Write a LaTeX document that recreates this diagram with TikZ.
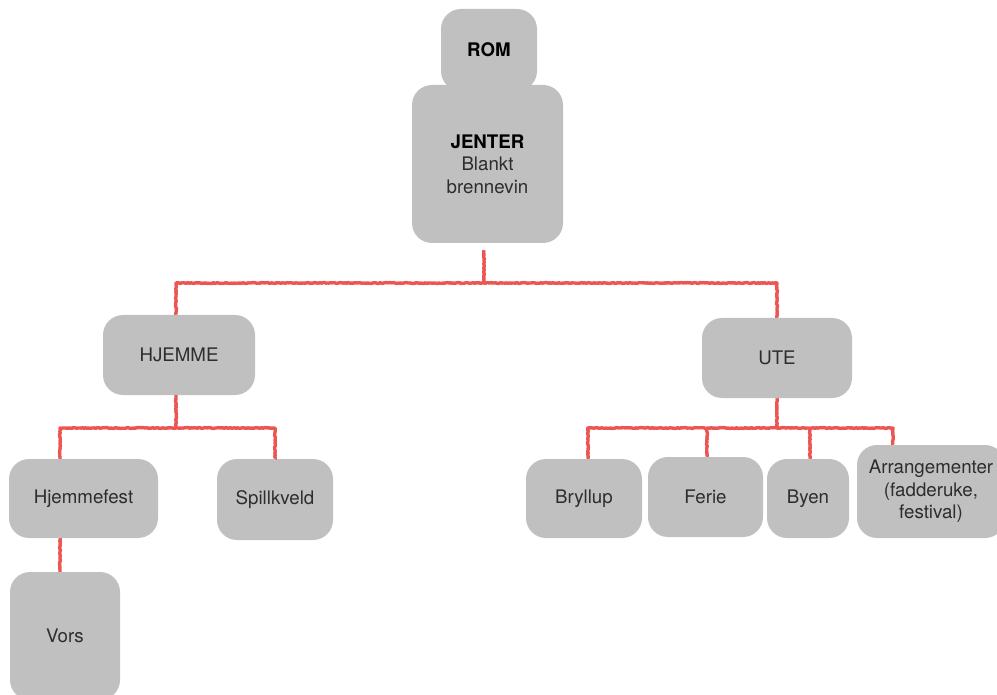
\documentclass[tikz,border=0pt]{standalone}
\usepackage{fontspec}
\setmainfont{TeX Gyre Heros}
\usetikzlibrary{decorations.pathmorphing}
\definecolor{boxgray}{RGB}{192,192,192}
\definecolor{linkred}{RGB}{236,86,82}
\definecolor{txt}{RGB}{45,45,45}
\begin{document}
\begin{tikzpicture}[x=1pt,y=-1pt,
  box/.style={rectangle, rounded corners=20pt, fill=boxgray, text=txt,
    align=center, inner sep=2pt, font=\fontsize{18.7}{22.5}\selectfont},
  head/.style={text=black, font=\fontsize{18.7}{22.5}\selectfont\bfseries},
  link/.style={draw=linkred, line width=3.4pt, line join=round,
    decorate, decoration={random steps, segment length=1.5pt, amplitude=0.45pt}}]
\useasboundingbox (0,0) rectangle (997,695);
\clip (0,0) rectangle (997,695);

% top of the tree
\node[box, minimum width=96pt, minimum height=82pt] (rom) at (489,50) {\textcolor{black}{\bfseries ROM}};
\node[box, minimum width=151pt, minimum height=158pt] (jenter) at (487.5,164)
  {\textcolor{black}{\bfseries JENTER}\\Blankt\\brennevin};

% second level
\node[box, minimum width=152pt, minimum height=80pt] (hjemme) at (179,355) {HJEMME};
\node[box, minimum width=150pt, minimum height=80pt] (ute) at (777,358) {UTE};

% children of HJEMME
\node[box, minimum width=149pt, minimum height=79pt] (hjemmefest) at (83.5,498.5) {Hjemmefest};
\node[box, minimum width=116pt, minimum height=81pt] (spillkveld) at (275,499.5) {Spillkveld};
\node[box, minimum width=110pt, minimum height=128pt] (vors) at (65,636) {Vors};

% children of UTE
\node[box, minimum width=116pt, minimum height=79pt] (bryllup) at (584,498.5) {Bryllup};
\node[box, minimum width=115pt, minimum height=80pt] (ferie) at (705.5,497) {Ferie};
\node[box, minimum width=82pt, minimum height=79pt] (byen) at (808,498.5) {Byen};
\node[box, minimum width=148pt, minimum height=93pt] (arr) at (931,491.5)
  {Arrangementer\\(fadderuke,\\festival)};

% bus lines
\coordinate (busTop) at (484,283);
\coordinate (busLeft) at (176,428);
\coordinate (busRight) at (777,428);

\draw[link] ([xshift=-3.5pt,yshift=-7pt]jenter.south) -- (busTop);
\draw[link] ([xshift=-3pt]hjemme.north) |- (busTop) -| (ute.north);

\draw[link] ([xshift=-3pt]hjemme.south) -- (busLeft);
\draw[link] ([xshift=-23.5pt]hjemmefest.north) |- (busLeft) -| (spillkveld.north);
\draw[link] ([xshift=-23.5pt]hjemmefest.south) -- ([xshift=-5pt]vors.north);

\draw[link] (ute.south) -- (busRight);
\draw[link] ([xshift=4pt]bryllup.north) |- (busRight) -| ([xshift=-38pt]arr.north);
\draw[link] ([xshift=1.5pt]ferie.north) -- ([xshift=1.5pt]ferie.north |- busRight);
\draw[link] ([xshift=2pt]byen.north) -- ([xshift=2pt]byen.north |- busRight);
\end{tikzpicture}
\end{document}
